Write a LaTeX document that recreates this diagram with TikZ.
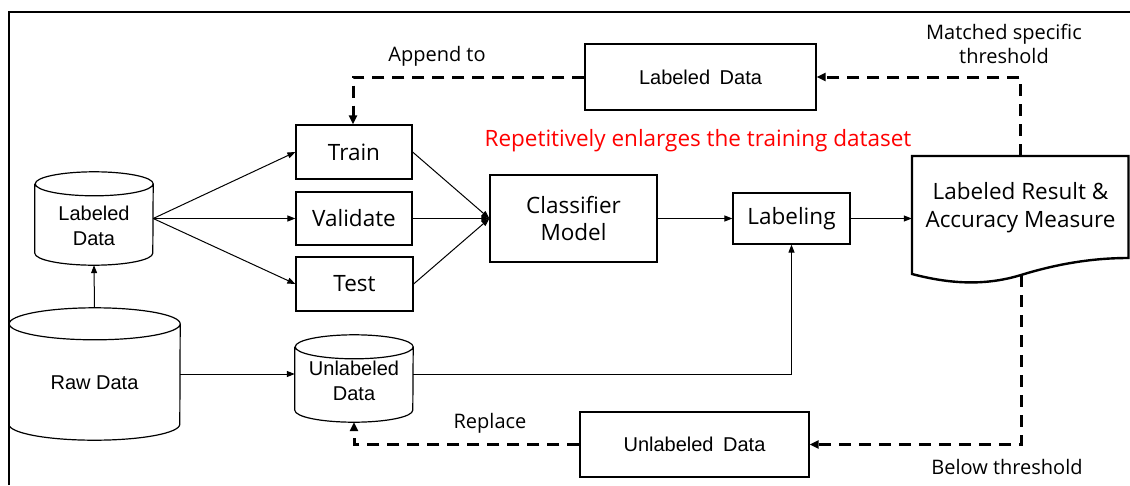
\documentclass[tikz,border=0pt]{standalone}
\usepackage{fontspec}
\setmainfont{Open Sans}
\newfontfamily\arialfont{Liberation Sans}
\usetikzlibrary{arrows.meta,calc}

% cylinder outline around a named node: node, half width, ellipse radius
\newcommand\drum[3]{%
  \draw[drumline] ([yshift=-#3pt]#1.north west) -- ([yshift=#3pt]#1.south west)
    arc[start angle=180,end angle=360,x radius=#2pt,y radius=#3pt]
    -- ([yshift=-#3pt]#1.north east)
    arc[start angle=0,end angle=180,x radius=#2pt,y radius=#3pt]
    arc[start angle=180,end angle=360,x radius=#2pt,y radius=#3pt];
}

\begin{document}
\begin{tikzpicture}[x=1pt,y=-1pt,
  proc/.style={draw, line width=1.2pt, inner sep=0pt, align=center,
    font=\fontsize{22.5}{27}\selectfont},
  store/.style={inner sep=0pt, align=center,
    font=\arialfont\fontsize{20}{25}\selectfont},
  flow/.style={line width=1pt, -{Triangle[length=8pt,width=6pt]}},
  loopback/.style={line width=3pt, dash pattern=on 12pt off 8pt,
    -{Triangle[length=9pt,width=8pt]}},
  note/.style={inner sep=0pt, align=center, font=\fontsize{20}{24}\selectfont},
  drumline/.style={line width=1.2pt}
]
\useasboundingbox (0,0) rectangle (1130,485);

% outer frame
\draw[line width=2pt] (9,485) -- (9,12) -- (1130,12);

% data stores
\node[minimum width=118pt, minimum height=93pt, inner sep=0pt] (ldb) at (94,218.5) {};
\drum{ldb}{59}{12}
\node[store] (ldbtext) at ([yshift=-7pt]ldb.center) {Labeled\\Data};

\node[minimum width=171pt, minimum height=132pt, inner sep=0pt] (raw) at (94.5,374) {};
\drum{raw}{85.5}{16}
\node[store] (rawtext) at ([yshift=-9pt]raw.center) {Raw Data};

\node[minimum width=118pt, minimum height=87pt, inner sep=0pt] (udb) at (354,378.5) {};
\drum{udb}{59}{12}
\node[store] (udbtext) at ([yshift=-2pt]udb.center) {Unlabeled\\Data};

% processing boxes
\node[proc, minimum width=116pt, minimum height=54pt] (train) at (354,152) {Train};
\node[proc, minimum width=116pt, minimum height=53pt] (valid) at (354,218.5) {Validate};
\node[proc, minimum width=117pt, minimum height=54pt] (test) at (354.5,284) {Test};
\node[proc, minimum width=167pt, minimum height=87pt] (clf) at (573.5,218.5) {Classifier\\Model};
\node[proc, minimum width=117pt, minimum height=51pt] (lab) at (791.5,218.5) {Labeling};

\node[store, draw, line width=1.2pt, minimum width=231pt, minimum height=66pt] (lbox) at (700.5,77) {Labeled\hspace{4pt} Data};
\node[store, draw, line width=1.2pt, minimum width=229pt, minimum height=65pt] (ubox) at (694.5,444.5) {Unlabeled\hspace{4pt} Data};

% result document with wavy bottom
\node[inner sep=0pt, minimum width=217pt, minimum height=104pt, align=center,
  font=\fontsize{22.5}{28}\selectfont] (doc) at (1020.5,208) {Labeled Result \&\\Accuracy Measure};
\draw[line width=2.4pt, line join=miter]
  (912,274) -- (912,156) -- (1128.5,156) -- (1128.5,258)
  .. controls (1095,258) and (1060,263) .. (1021,275)
  .. controls (985,286) and (950,284) .. (912,274) -- cycle;
\coordinate (wave) at (1021,275);

% main flow
\draw[flow] (raw.north) -- (ldb.south);
\draw[flow] (ldb.east) -- (train.west);
\draw[flow] (ldb.east) -- (valid.west);
\draw[flow] (ldb.east) -- (test.west);
\draw[flow] (train.east) -- (clf.west);
\draw[flow] (valid.east) -- (clf.west);
\draw[flow] (test.east) -- (clf.west);
\draw[flow] (clf.east) -- (lab.west);
\draw[flow] (lab.east) -- (lab.east -| doc.west);
\draw[flow] (raw.east) -- (raw.east -| udb.west);
\draw[flow] (udb.east |- raw.east) -| (lab.south);

% feedback loops
\draw[loopback] (doc.north) |- (lbox.east);
\draw[loopback] (lbox.west) -| ([xshift=-1pt]train.north);
\draw[loopback] (wave) |- (ubox.east);
\draw[loopback] (ubox.west) -| (udb.south);

% annotations
\node[note] (append) at (437,56) {Append to};
\node[note] (matched) at (1004,44) {Matched specific\\threshold};
\node[note] (replace) at (490,423) {Replace};
\node[note] (below) at (1007,467) {Below threshold};
\node[inner sep=0pt, text=red, font=\fontsize{22.5}{27}\selectfont] (repeat) at (698,141)
  {Repetitively enlarges the training dataset};
\end{tikzpicture}
\end{document}
